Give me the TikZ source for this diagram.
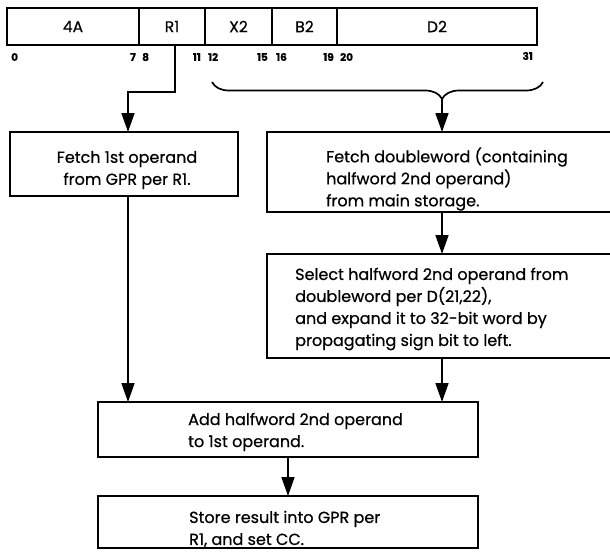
\documentclass[tikz,border=0pt]{standalone}
\usepackage{fontspec}
\setmainfont{Poppins}[FakeBold=0.6]
\usetikzlibrary{arrows.meta,decorations.pathreplacing,calc}
\tikzset{
  cell/.style={draw, line width=1.1pt, inner sep=0pt, outer sep=0pt,
    minimum height=37pt, anchor=north west, font=\fontsize{15.5}{17}\selectfont},
  bitno/.style={inner sep=0pt, font=\bfseries\fontsize{10.5}{12}\selectfont},
  stepbox/.style={draw, line width=2.2pt, inner sep=0pt, outer sep=0pt, anchor=north west},
  steptext/.style={inner sep=0pt, font=\fontsize{16}{22}\selectfont},
  flow/.style={line width=1.7pt, -{Triangle[length=19pt,width=13pt]}},
}
\begin{document}
\begin{tikzpicture}[x=1pt, y=-1pt]
  \useasboundingbox (0,0) rectangle (610,552);
  \fill[white] (0,0) rectangle (610,552);
  \clip (0,0) rectangle (610,552);

  % instruction format
  \node[cell, minimum width=132pt] (opc) at (7,8) {4A};
  \node[cell, minimum width=66pt] (r1) at (opc.north east) {R1};
  \node[cell, minimum width=67pt] (x2) at (r1.north east) {X2};
  \node[cell, minimum width=65pt] (b2) at (x2.north east) {B2};
  \node[cell, minimum width=200pt] (d2) at (b2.north east) {D2};
  \draw[line width=2pt] (opc.north west) rectangle (d2.south east);

  % bit numbers
  \node[bitno, anchor=west] (n0) at (11,57) {0};
  \node[bitno, anchor=east] (n7) at (136,57) {7};
  \node[bitno, anchor=west] (n8) at (142,57) {8};
  \node[bitno, anchor=east] (n11) at (201,57) {11};
  \node[bitno, anchor=west] (n12) at (208,57) {12};
  \node[bitno, anchor=east] (n15) at (268,57) {15};
  \node[bitno, anchor=west] (n16) at (276,57) {16};
  \node[bitno, anchor=east] (n19) at (334,57) {19};
  \node[bitno, anchor=west] (n20) at (340,57) {20};
  \node[bitno, anchor=east] (n31) at (533,56) {31};

  % step boxes
  \node[stepbox, minimum width=228pt, minimum height=64pt] (fetchA) at (10,132) {};
  \node[stepbox, minimum width=400pt, minimum height=80pt] (fetchB) at (267,132) {};
  \node[stepbox, minimum width=400pt, minimum height=104pt] (select) at (267,254) {};
  \node[stepbox, minimum width=380pt, minimum height=55pt] (add) at (98,402) {};
  \node[stepbox, minimum width=380pt, minimum height=52pt] (store) at (98,496) {};

  % step texts
  \node[steptext, align=center] (tA) at (127,170) {Fetch 1st operand\\from GPR per R1.};
  \node[steptext, align=left, anchor=west] (tB) at (326,179)
    {Fetch doubleword (containing\\halfword 2nd operand)\\from main storage.};
  \node[steptext, align=left, anchor=west] (tS) at (295,309)
    {Select halfword 2nd operand from\\doubleword per D(21,22),\\and expand it to 32-bit word by\\propagating sign bit to left.};
  \node[steptext, align=left, anchor=west] (tAdd) at (188,432)
    {Add halfword 2nd operand\\to 1st operand.};
  \node[steptext, align=left, anchor=west] (tSt) at (189,529)
    {Store result into GPR per\\R1, and set CC.};

  % brace over X2, B2, D2
  \coordinate (brL) at (212,82);
  \coordinate (brR) at (543,82);
  \coordinate (brTip) at (442,99);
  \draw[line width=1.7pt, decorate,
    decoration={brace, mirror, amplitude=17pt, aspect=0.695}] (brL) -- (brR);

  % connectors
  \draw[flow] ([xshift=3pt]r1.south) -- ++(0,47) -| ([xshift=4pt]fetchA.north);
  \draw[flow] (brTip) -- (fetchB.north -| brTip);
  \draw[flow] (fetchB.south -| brTip) -- (select.north -| brTip);
  \draw[flow] (select.south -| brTip) -- (add.north -| brTip);
  \draw[flow] ([xshift=4pt]fetchA.south) -- ([xshift=4pt]fetchA.south |- add.north);
  \draw[flow] (add.south) -- (store.north);
\end{tikzpicture}
\end{document}
